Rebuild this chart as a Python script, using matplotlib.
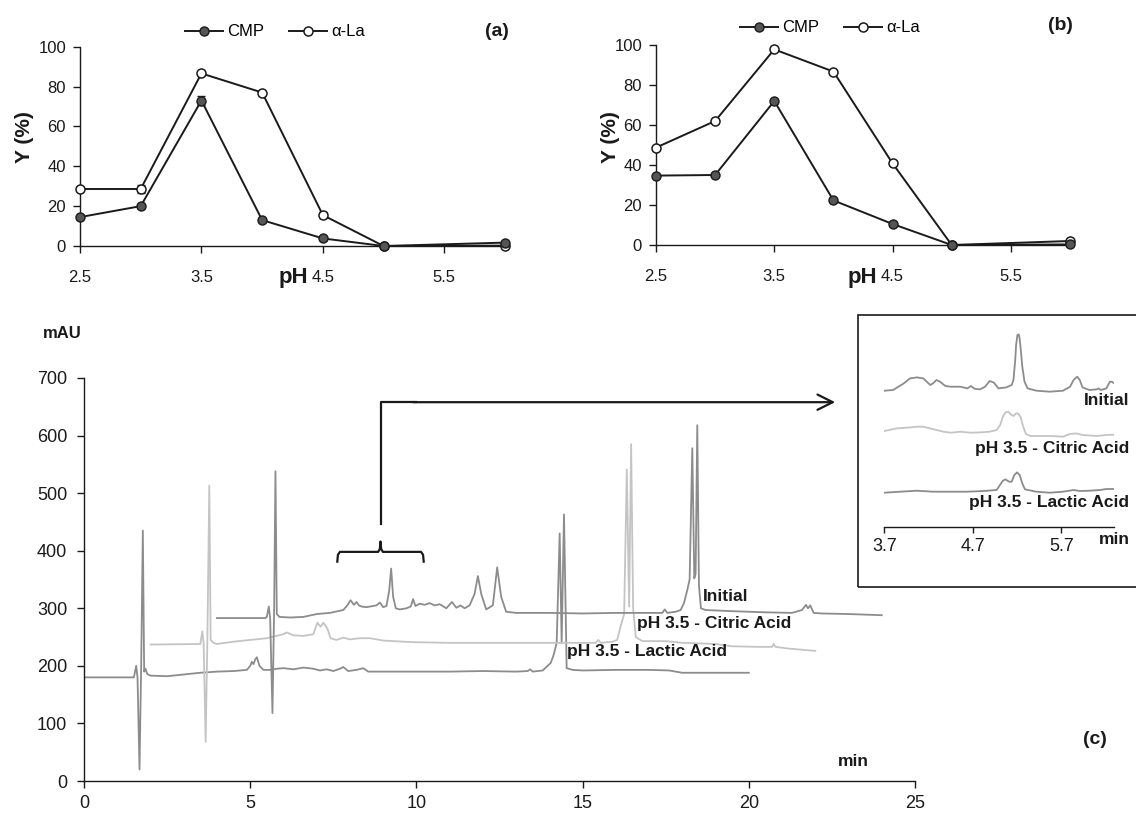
import matplotlib
matplotlib.use("Agg")
import matplotlib.pyplot as plt
import matplotlib.patches as mpatches

plt.rcParams['font.family'] = ['Liberation Sans', 'DejaVu Sans']

W, H = 1136, 814

# ---- panels (a) and (b): yield vs pH ----
ph = [2.5, 3.0, 3.5, 4.0, 4.5, 5.0, 6.0]
cmp_a = [14.5, 20, 73, 13, 3.8, 0, 1.7]
cmp_a_err = [0.5, 1, 2.5, 1, 0.8, 0, 0]
ala_a = [28.6, 28.6, 86.6, 77, 15.5, 0, 0.2]
ala_a_err = [0.5, 2, 0.8, 1, 1.5, 0, 0]
cmp_b = [34.7, 35, 72, 22.3, 10.5, 0, 0.3]
cmp_b_err = [0.5, 0.5, 1, 1, 1.2, 0, 0]
ala_b = [48.7, 62, 97.8, 86.7, 40.8, 0, 2]
ala_b_err = [1, 0.8, 1, 0.8, 1, 0, 0]
ph_ticks = [2.5, 3.5, 4.5, 5.5]

# ---- panel (c): chromatograms (time in min, absorbance in mAU) ----
lactic_t = [0, 1.50, 1.57, 1.61, 1.67, 1.72, 1.77, 1.81, 1.85, 1.90, 2.0, 2.5, 3.0,
            3.5, 4.0, 4.5, 4.9, 5.0, 5.05, 5.10, 5.15, 5.20, 5.28, 5.40, 5.6, 5.8,
            6.0, 6.3, 6.6, 6.9, 7.1, 7.3, 7.5, 7.7, 7.8, 7.95, 8.2, 8.4, 8.55, 9.0,
            10, 11, 12, 13, 13.35, 13.42, 13.5, 13.8, 14.04, 14.13, 14.22, 14.31,
            14.37, 14.44, 14.52, 14.7, 15, 16, 17, 17.6, 18.0, 18.5, 19, 20]
lactic_y = [180, 180, 200, 180, 20, 200, 435, 190, 195, 186, 183, 182, 185,
            188, 190, 191, 193, 200, 207, 203, 211, 215, 200, 193, 193, 195,
            196, 194, 197, 195, 192, 194, 191, 195, 198, 191, 193, 196, 190, 190,
            190, 190, 191, 190, 191, 194, 190, 192, 205, 219, 240, 430,
            240, 463, 196, 193, 192, 193, 193, 192, 188, 188, 188, 188]

citric_t = [2.0, 3.50, 3.56, 3.60, 3.66, 3.71, 3.77, 3.81, 3.9, 4.0, 4.5, 5.0, 5.5,
            6.0, 6.1, 6.3, 6.6, 6.9, 7.02, 7.12, 7.2, 7.32, 7.42, 7.6, 7.8, 8.0,
            8.3, 8.6, 9.0, 9.3, 9.6, 10, 11, 12, 13, 14, 15, 15.4, 15.47, 15.55,
            15.9, 16.04, 16.14, 16.25, 16.33, 16.40, 16.46, 16.52, 16.6, 16.8,
            17.5, 18.0, 19.0, 19.5, 20.3, 20.7, 20.75, 20.8, 21.2, 22.0]
citric_y = [237, 238, 260, 238, 68, 240, 513, 245, 240, 238, 242, 245, 248,
            255, 258, 253, 252, 255, 275, 268, 275, 265, 248, 245, 249, 246,
            248, 248, 244, 243, 242, 241, 240, 240, 240, 240, 240, 240, 245, 240,
            242, 245, 268, 290, 541, 303, 585, 300, 250, 243,
            243, 240, 238, 234, 233, 233, 238, 233, 230, 226]

initial_t = [4.0, 5.45, 5.50, 5.56, 5.60, 5.67, 5.72, 5.76, 5.80, 5.88, 6.2, 6.6,
             7.0, 7.4, 7.8, 7.92, 8.02, 8.12, 8.2, 8.27, 8.35, 8.5, 8.8, 8.9, 9.0,
             9.1, 9.18, 9.24, 9.30, 9.38, 9.5, 9.7, 9.83, 9.9, 9.97, 10.1, 10.25,
             10.4, 10.55, 10.7, 10.9, 11.07, 11.2, 11.33, 11.45, 11.6, 11.75,
             11.85, 11.95, 12.1, 12.3, 12.43, 12.55, 12.7, 13, 14, 15, 16, 17,
             17.4, 17.47, 17.55, 17.8, 17.95, 18.05, 18.15, 18.22, 18.30, 18.36,
             18.40, 18.45, 18.50, 18.56, 18.7, 19.5, 20.5, 21.3, 21.6, 21.72,
             21.78, 21.85, 21.95, 22.2, 23, 24.0]
initial_y = [283, 283, 285, 303, 283, 118, 300, 538, 290, 285, 284, 285,
             290, 292, 297, 305, 314, 306, 311, 305, 303, 302, 305, 310, 302,
             304, 330, 369, 320, 300, 298, 300, 303, 316, 304, 308, 306,
             309, 305, 307, 300, 311, 301, 305, 300, 305, 325,
             356, 325, 298, 305, 371, 320, 294, 292, 292, 291, 292, 292,
             292, 298, 292, 294, 297, 309, 332, 350, 578, 352,
             360, 618, 340, 300, 297, 295, 293, 292, 297, 306,
             300, 305, 292, 291, 290, 288]

# ---- inset: zoomed region (relative absorbance) ----
in_initial_t = [3.70, 3.80, 3.92, 3.99, 4.07, 4.14, 4.22, 4.25, 4.29, 4.33, 4.39,
                4.45, 4.56, 4.64, 4.68, 4.72, 4.78, 4.84, 4.89, 4.94, 4.99, 5.08,
                5.14, 5.16, 5.18, 5.19, 5.205, 5.22, 5.23, 5.245, 5.26, 5.285,
                5.32, 5.42, 5.57, 5.72, 5.80, 5.84, 5.88, 5.91, 5.94, 6.02, 6.10,
                6.12, 6.15, 6.21, 6.25, 6.27, 6.30]
in_initial_y = [136, 136.7, 143.3, 148.3, 149.3, 148.3, 141.7, 143.3, 146.7, 145,
                140.7, 140, 140, 138.3, 140.7, 138, 137.3, 140, 145.7, 144, 138.3,
                139.3, 141.7, 146.7, 166.7, 181.7, 191.7, 192.3, 188.3, 175, 160,
                145, 138.3, 136, 135, 136, 140, 146.7, 150, 146.7, 139.3, 136.7,
                137.3, 138.3, 136.7, 138.3, 145, 145, 143.3]
in_citric_t = [3.70, 3.84, 3.95, 4.07, 4.14, 4.22, 4.29, 4.37, 4.45, 4.56, 4.67,
               4.78, 4.89, 4.97, 5.01, 5.04, 5.07, 5.10, 5.13, 5.16, 5.19, 5.21,
               5.24, 5.27, 5.30, 5.35, 5.57, 5.72, 5.80, 5.87, 5.94, 6.10, 6.21, 6.30]
in_citric_y = [95.7, 98.3, 99, 100, 100, 98.3, 96.7, 95, 94, 95, 94, 94.3, 95,
               96.7, 101.7, 110, 114.3, 115, 112.3, 110.7, 113.3, 113.3, 110, 100,
               92.7, 90.7, 90.7, 90, 92.7, 93.3, 91.7, 90.7, 91.7, 92]
in_lactic_t = [3.70, 3.88, 4.07, 4.25, 4.45, 4.64, 4.82, 4.97, 5.00, 5.04, 5.07,
               5.11, 5.14, 5.17, 5.20, 5.23, 5.26, 5.29, 5.42, 5.57, 5.72, 5.84,
               5.91, 6.02, 6.14, 6.21, 6.30]
in_lactic_y = [34, 35, 36, 35, 35, 35, 35.7, 36.7, 40.7, 46, 47.3, 45, 45, 51.7,
               54.3, 51.7, 43.3, 37.3, 35, 34, 35, 36.7, 35.7, 36, 36.7, 37.7, 37.7]
in_ticks = [3.7, 4.7, 5.7]

trace_names = ['Initial', 'pH 3.5 - Citric Acid', 'pH 3.5 - Lactic Acid']
c_dark = '#8c8c8c'
c_light = '#c4c4c4'
ink = '#1a1a1a'


def fx(x):
    return x / W


def fy(y):
    return 1 - y / H


fig = plt.figure(figsize=(W / 100, H / 100), dpi=100)


def yield_panel(rect, cmp_v, cmp_e, ala_v, ala_e, tag, leg_xy, tag_xy, ylab_x, ph_xy):
    ax = fig.add_axes(rect)
    ax.errorbar(ph, ala_v, yerr=ala_e, fmt='none', ecolor=ink, capsize=3,
                elinewidth=0.9, clip_on=False, zorder=2)
    ax.errorbar(ph, cmp_v, yerr=cmp_e, fmt='none', ecolor=ink, capsize=3,
                elinewidth=0.9, clip_on=False, zorder=2)
    ax.plot(ph, cmp_v, color=ink, lw=1.4, marker='o', ms=6.5, mfc='#555555',
            mec=ink, mew=1.0, clip_on=False, zorder=4, label='CMP')
    ax.plot(ph, ala_v, color=ink, lw=1.4, marker='o', ms=6.5, mfc='white',
            mec=ink, mew=1.1, clip_on=False, zorder=3, label='α-La')
    ax.set_xlim(2.5, 6.0)
    ax.set_ylim(0, 100)
    ax.set_xticks(ph_ticks)
    ax.set_xticklabels([str(t) for t in ph_ticks])
    ax.set_yticks(range(0, 101, 20))
    for s in ['top', 'right']:
        ax.spines[s].set_visible(False)
    for s in ['left', 'bottom']:
        ax.spines[s].set_color(ink)
        ax.spines[s].set_linewidth(1.0)
    ax.tick_params(axis='x', length=5, width=1, pad=12, labelsize=12, colors=ink)
    ax.tick_params(axis='y', length=5, width=1, pad=5, labelsize=12, colors=ink)
    fig.legend(*ax.get_legend_handles_labels(), loc='center',
               bbox_to_anchor=(fx(leg_xy[0]), fy(leg_xy[1])),
               ncol=2, frameon=False, fontsize=12, handlelength=2.3, handletextpad=0.25,
               columnspacing=1.5, borderpad=0, borderaxespad=0, numpoints=1)
    fig.text(fx(tag_xy[0]), fy(tag_xy[1]), tag, fontsize=14, fontweight='bold',
             ha='center', va='center', color=ink)
    fig.text(fx(ylab_x), fy(137), 'Y (%)', fontsize=15, fontweight='bold',
             rotation=90, ha='center', va='center', color=ink)
    fig.text(fx(ph_xy[0]), fy(ph_xy[1]), 'pH', fontsize=16, fontweight='bold',
             ha='center', va='center', color=ink)
    return ax


yield_panel([fx(80), fy(246), fx(505) - fx(80), fy(46.7) - fy(246)],
            cmp_a, cmp_a_err, ala_a, ala_a_err, '(a)', (275, 32), (497, 31), 24, (293, 277))
yield_panel([fx(656), fy(245), fx(1070) - fx(656), fy(45) - fy(245)],
            cmp_b, cmp_b_err, ala_b, ala_b_err, '(b)', (830, 28), (1060, 25), 611, (862, 277))

# ---- panel (c) ----
axc = fig.add_axes([fx(84), fy(781), fx(915) - fx(84), fy(378) - fy(781)])
axc.plot(lactic_t, lactic_y, color=c_dark, lw=1.3)
axc.plot(citric_t, citric_y, color=c_light, lw=1.3)
axc.plot(initial_t, initial_y, color=c_dark, lw=1.3)
axc.set_xlim(0, 25)
axc.set_ylim(0, 700)
axc.set_xticks(range(0, 26, 5))
axc.set_yticks(range(0, 701, 100))
for s in ['top', 'right']:
    axc.spines[s].set_visible(False)
for s in ['left', 'bottom']:
    axc.spines[s].set_color(ink)
    axc.spines[s].set_linewidth(1.0)
axc.tick_params(axis='x', length=5, width=1, pad=5, labelsize=13, colors=ink)
axc.tick_params(axis='y', length=5, width=1, pad=7, labelsize=13, colors=ink)

axc.text(18.61, 321, trace_names[0], fontsize=12.5, fontweight='bold', va='center', color=ink)
axc.text(16.63, 273, trace_names[1], fontsize=12.5, fontweight='bold', va='center', color=ink)
axc.text(14.52, 225, trace_names[2], fontsize=12.5, fontweight='bold', va='center', color=ink)

# brace and arrow pointing to the inset
brace_t = [7.62, 7.64, 7.70, 8.85, 8.90, 8.92, 8.94, 8.99, 10.14, 10.20, 10.22]
brace_y = [381, 393, 398, 398, 403, 416, 403, 398, 398, 393, 381]
axc.plot(brace_t, brace_y, color=ink, lw=1.6, solid_joinstyle='round', clip_on=False)
axc.plot([8.92, 8.92, 10.0], [446, 658, 658], color=ink, lw=1.6, clip_on=False)
axc.annotate('', xy=(22.6, 658), xytext=(9.9, 658),
             arrowprops=dict(arrowstyle='->,head_length=1.1,head_width=0.55',
                             color=ink, lw=1.6, shrinkA=0, shrinkB=0))

fig.text(fx(62), fy(333), 'mAU', fontsize=12, fontweight='bold', ha='center', va='center', color=ink)
fig.text(fx(853), fy(762), 'min', fontsize=12.5, fontweight='bold', ha='center', va='center', color=ink)
fig.text(fx(1095), fy(740), '(c)', fontsize=14, fontweight='bold', ha='center', va='center', color=ink)

# ---- inset ----
box = mpatches.Rectangle((fx(858), fy(587)), fx(1145) - fx(858), fy(315) - fy(587),
                         transform=fig.transFigure, fill=False, ec=ink, lw=1.2)
fig.add_artist(box)
axi = fig.add_axes([fx(884.3), fy(526.7), fx(1114.3) - fx(884.3), fy(320) - fy(526.7)])
axi.plot(in_initial_t, in_initial_y, color=c_dark, lw=1.3)
axi.plot(in_citric_t, in_citric_y, color=c_light, lw=1.3)
axi.plot(in_lactic_t, in_lactic_y, color=c_dark, lw=1.3)
axi.set_xlim(3.7, 6.3)
axi.set_ylim(0, 206.7)
axi.patch.set_alpha(0)
axi.set_xticks(in_ticks)
axi.set_xticklabels([str(t) for t in in_ticks])
axi.set_yticks([])
for s in ['top', 'right', 'left']:
    axi.spines[s].set_visible(False)
axi.spines['bottom'].set_color(ink)
axi.spines['bottom'].set_linewidth(1.0)
axi.tick_params(axis='x', length=4, width=1, pad=4, labelsize=13, colors=ink)
fig.text(fx(1114), fy(539), 'min', fontsize=12.5, fontweight='bold', ha='center', va='center', color=ink)
fig.text(fx(1129), fy(400), trace_names[0], fontsize=12.5, fontweight='bold', ha='right', va='center', color=ink)
fig.text(fx(1129), fy(448), trace_names[1], fontsize=12.5, fontweight='bold', ha='right', va='center', color=ink)
fig.text(fx(1129), fy(502), trace_names[2], fontsize=12.5, fontweight='bold', ha='right', va='center', color=ink)

fig.savefig('out.png', dpi=100)
